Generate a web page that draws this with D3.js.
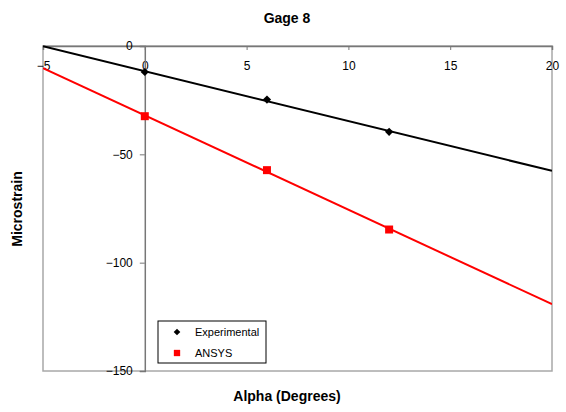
<!DOCTYPE html>
<html>
<head>
<meta charset="utf-8">
<script src="https://cdn.jsdelivr.net/npm/d3@7"></script>
<style>
  html, body { margin: 0; padding: 0; background: #fff; }
  svg { display: block; font-family: "Liberation Sans", Arial, sans-serif; }
</style>
</head>
<body>
<svg id="chart" width="566" height="412"></svg>
<script>
// Strain at gage 8 versus angle of attack
const alpha = [0, 6, 12];
const experimental = [-12, -24.7, -39.6];
const ansys = [-32.4, -57.3, -84.7];

const xTicks = [-5, 0, 5, 10, 15, 20];
const yTicks = [0, -50, -100, -150];

const svg = d3.select("#chart");
const plot = { left: 43, right: 552, top: 46, bottom: 371 };

const x = d3.scaleLinear().domain([-5, 20]).range([plot.left, plot.right]);
const y = d3.scaleLinear().domain([0, -150]).range([plot.top, plot.bottom]);

// plot area frame
svg.append("rect")
  .attr("x", plot.left).attr("y", plot.top)
  .attr("width", plot.right - plot.left).attr("height", plot.bottom - plot.top)
  .attr("fill", "#fff").attr("stroke", "#a8a8a8").attr("stroke-width", 1.5);

// least-squares linear trend over the full axis range
function trend(xs, ys) {
  const mx = d3.mean(xs), my = d3.mean(ys);
  const b = d3.sum(xs, (v, i) => (v - mx) * (ys[i] - my)) / d3.sum(xs, v => (v - mx) ** 2);
  const a = my - b * mx;
  return x.domain().map(v => [v, a + b * v]);
}

const line = d3.line().x(d => x(d[0])).y(d => y(d[1]));

// x axis sits on y = 0 (top edge), ticks below
const xAxis = svg.append("g")
  .attr("transform", `translate(0,${y(0)})`)
  .call(d3.axisBottom(x).tickValues(xTicks).tickSize(4).tickPadding(11).tickFormat(d3.format("d")));
xAxis.select(".domain").attr("stroke", "#777").attr("stroke-width", 1.5);
xAxis.selectAll(".tick line").attr("stroke", "#777");
xAxis.selectAll("text").attr("font-size", 12).attr("fill", "#000")
  .attr("font-family", "'Liberation Sans', Arial, sans-serif");

// y axis sits on x = 0
const yAxis = svg.append("g")
  .attr("transform", `translate(${x(0)},0)`)
  .call(d3.axisLeft(y).tickValues(yTicks).tickSize(5).tickPadding(7).tickFormat(d3.format("d")));
yAxis.select(".domain").attr("stroke", "#777").attr("stroke-width", 1.5);
yAxis.selectAll(".tick line").attr("stroke", "#777");
yAxis.selectAll("text").attr("font-size", 12).attr("fill", "#000")
  .attr("font-family", "'Liberation Sans', Arial, sans-serif");

svg.append("clipPath").attr("id", "plotclip").append("rect")
  .attr("x", plot.left).attr("y", plot.top - 2)
  .attr("width", plot.right - plot.left).attr("height", plot.bottom - plot.top + 2);

// square-proportioned diamond (square turned 45 degrees)
const diamond = {
  draw(ctx, size) {
    const r = Math.sqrt(size / 2);
    ctx.moveTo(0, -r); ctx.lineTo(r, 0); ctx.lineTo(0, r); ctx.lineTo(-r, 0); ctx.closePath();
  }
};

const series = [
  { name: "Experimental", values: experimental, color: "#000", symbol: diamond, size: 34, legendSize: 22 },
  { name: "ANSYS", values: ansys, color: "#ff0000", symbol: d3.symbolSquare, size: 64, legendSize: 40 }
];

series.forEach(s => {
  svg.append("path")
    .attr("d", line(trend(alpha, s.values)))
    .attr("fill", "none").attr("stroke", s.color).attr("stroke-width", 2)
    .attr("clip-path", "url(#plotclip)");
  svg.append("g").selectAll("path")
    .data(alpha.map((a, i) => [a, s.values[i]]))
    .join("path")
    .attr("transform", d => `translate(${x(d[0])},${y(d[1])})`)
    .attr("d", d3.symbol().type(s.symbol).size(s.size))
    .attr("fill", s.color);
});

// legend
const lg = svg.append("g").attr("transform", "translate(158,321)");
lg.append("rect").attr("width", 108).attr("height", 42)
  .attr("fill", "#fff").attr("stroke", "#000").attr("stroke-width", 1);
series.forEach((s, i) => {
  const row = lg.append("g").attr("transform", `translate(0,${11 + i * 21})`);
  row.append("path").attr("transform", "translate(19,0)")
    .attr("d", d3.symbol().type(s.symbol).size(s.legendSize))
    .attr("fill", s.color);
  row.append("text").attr("x", 37).attr("y", 4)
    .attr("font-size", 11).text(s.name);
});

// titles
svg.append("text").attr("x", 287).attr("y", 23).attr("text-anchor", "middle")
  .attr("font-size", 14).attr("font-weight", "bold").text("Gage 8");
svg.append("text").attr("x", 287).attr("y", 401).attr("text-anchor", "middle")
  .attr("font-size", 14).attr("font-weight", "bold").text("Alpha (Degrees)");
svg.append("text")
  .attr("transform", "translate(22,209) rotate(-90)")
  .attr("text-anchor", "middle")
  .attr("font-size", 14).attr("font-weight", "bold").text("Microstrain");
</script>
</body>
</html>
